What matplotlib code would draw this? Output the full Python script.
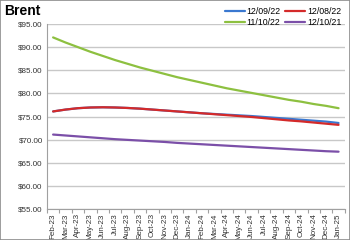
import matplotlib
matplotlib.use('Agg')
import matplotlib.pyplot as plt
import numpy as np
from matplotlib.patches import Rectangle

plt.rcParams['font.family'] = ['Liberation Sans', 'DejaVu Sans']

months = ['Feb-23', 'Mar-23', 'Apr-23', 'May-23', 'Jun-23', 'Jul-23', 'Aug-23', 'Sep-23',
          'Oct-23', 'Nov-23', 'Dec-23', 'Jan-24', 'Feb-24', 'Mar-24', 'Apr-24', 'May-24',
          'Jun-24', 'Jul-24', 'Aug-24', 'Sep-24', 'Oct-24', 'Nov-24', 'Dec-24', 'Jan-25']

s_120922 = [76.1, 76.5, 76.8, 76.95, 77.0, 76.95, 76.85, 76.7, 76.5, 76.3, 76.1, 75.9,
            75.7, 75.55, 75.4, 75.25, 75.1, 74.9, 74.7, 74.5, 74.3, 74.1, 73.9, 73.6]
s_120822 = [76.1, 76.5, 76.8, 76.95, 77.0, 76.95, 76.85, 76.7, 76.5, 76.3, 76.1, 75.9,
            75.7, 75.5, 75.3, 75.1, 74.9, 74.65, 74.4, 74.15, 73.95, 73.7, 73.45, 73.2]
s_111022 = [92.1, 91.0, 90.0, 89.0, 88.1, 87.2, 86.4, 85.6, 84.9, 84.2, 83.5, 82.9,
            82.3, 81.7, 81.1, 80.6, 80.1, 79.6, 79.1, 78.6, 78.2, 77.7, 77.3, 76.8]
s_121021 = [71.1, 70.9, 70.7, 70.5, 70.3, 70.1, 69.95, 69.8, 69.65, 69.5, 69.3, 69.15,
            69.0, 68.85, 68.7, 68.55, 68.4, 68.25, 68.1, 67.95, 67.8, 67.65, 67.5, 67.4]

series = [('12/09/22', s_120922, '#3a78d0'),
          ('12/08/22', s_120822, '#d42a2a'),
          ('11/10/22', s_111022, '#8dc040'),
          ('12/10/21', s_121021, '#7b4fa8')]

fig = plt.figure(figsize=(3.5, 2.4), dpi=100)
ax = fig.add_axes([0.134, 0.129, 0.851, 0.771])

x = np.arange(len(months))
lines = []
for name, vals, col in series:
    ln, = ax.plot(x, vals, color=col, lw=1.6, label=name, solid_capstyle='round')
    lines.append(ln)

ax.set_xlim(-0.5, len(months) - 0.5)
ax.set_ylim(55, 95)
ax.set_yticks(np.arange(55, 96, 5))
ax.set_yticklabels(['$%.2f' % v for v in np.arange(55, 96, 5)], fontsize=5.8, color='#333333')
ax.yaxis.grid(True, color='#c8c8c8', lw=1)
ax.set_axisbelow(True)
ax.tick_params(axis='y', length=0, pad=3)

ax.set_xticks(x)
ax.set_xticklabels(months, rotation=90, fontsize=5.8, color='#333333')
ax.set_xticks(np.arange(-0.5, len(months)), minor=True)
ax.tick_params(axis='x', which='major', length=0, pad=3)
ax.tick_params(axis='x', which='minor', length=3, color='#a0a0a0', width=0.8)

for s in ['top', 'right']:
    ax.spines[s].set_visible(False)
for s in ['left', 'bottom']:
    ax.spines[s].set_color('#a0a0a0')
    ax.spines[s].set_linewidth(0.8)

fig.text(0.012, 0.955, 'Brent', fontsize=10, fontweight='bold', va='center', ha='left')

# legend fills row-wise in the reference
order = [0, 2, 1, 3]
fig.legend([lines[i] for i in order], [series[i][0] for i in order],
           loc='upper right', bbox_to_anchor=(0.995, 1.0), ncol=2, fontsize=6.3,
           frameon=False, handlelength=2.3, handletextpad=0.2, columnspacing=0.5,
           labelspacing=0.25, borderpad=0.3)

fig.patches.append(Rectangle((0, 0), 1, 1, transform=fig.transFigure, fill=False,
                             edgecolor='#8c8c8c', lw=1.2))

fig.savefig('out.png', dpi=100)
